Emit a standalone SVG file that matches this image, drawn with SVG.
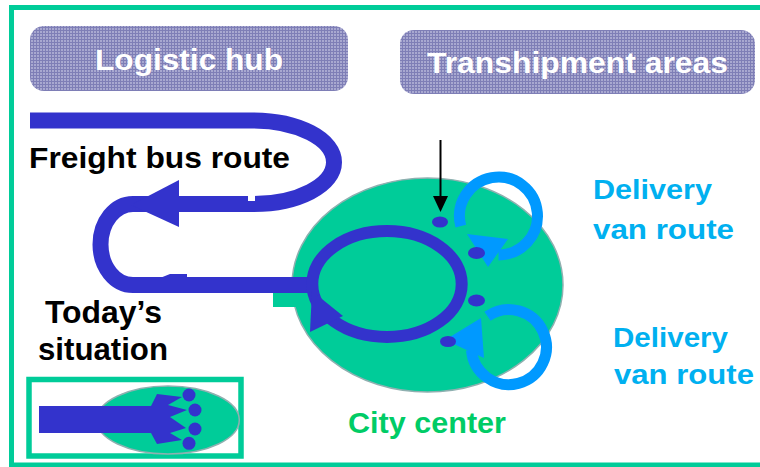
<svg xmlns="http://www.w3.org/2000/svg" width="760" height="467" viewBox="0 0 760 467">
  <defs>
    <pattern id="grid" width="3" height="3" patternUnits="userSpaceOnUse">
      <rect width="3" height="3" fill="#A8A8D0"/>
      <path d="M0,0.5H3M0.5,0V3" stroke="#7E7EB6" stroke-width="1"/>
    </pattern>
  </defs>
  <style>
    .lbl{font-family:"Liberation Sans",Arial,sans-serif;font-weight:bold}
    .box{fill:url(#grid)}
    .boxt{fill:#FFFFFF;font-size:30px}
    .blk{fill:#000000}
    .van{fill:#00B0F0;font-size:28px}
    .city{fill:#00CC99;stroke:#8FB0B0;stroke-width:1.5}
    .bus{fill:none;stroke:#3333CC}
    .busf{fill:#3333CC}
    .loop{fill:none;stroke:#0099FF;stroke-width:11}
    .loopf{fill:#0099FF}
    .dot{fill:#3333CC}
  </style>

  <rect x="11.5" y="7.5" width="770" height="457.5" fill="#FFFFFF" stroke="#00CC99" stroke-width="5"/>

  <g id="logistic-hub">
    <rect class="box" x="30" y="26" width="318" height="65" rx="14"/>
    <text class="lbl boxt" x="95" y="70" textLength="188" lengthAdjust="spacingAndGlyphs">Logistic hub</text>
  </g>

  <g id="transhipment-areas">
    <rect class="box" x="400" y="30" width="355" height="64" rx="14"/>
    <text class="lbl boxt" x="427" y="73" textLength="301" lengthAdjust="spacingAndGlyphs">Transhipment areas</text>
  </g>

  <g id="city-center">
    <ellipse class="city" cx="427.5" cy="285" rx="135.5" ry="107"/>
    <rect x="273" y="292" width="42" height="15" fill="#00CC99"/>
    <text class="lbl" x="348" y="433" font-size="29" fill="#00CC66" textLength="158" lengthAdjust="spacingAndGlyphs">City center</text>
  </g>

  <g id="connectors">
    <!-- freight bus route -->
    <path class="bus" stroke-width="16" d="M30,120.5 H253 A81,41.75 0 0 1 253,204 H133 A32.5,40.5 0 0 0 133,285 H318"/>
    <rect x="248" y="195" width="7" height="6" fill="#FFFFFF"/>
    <polygon class="busf" points="131,205 179,180 179,227"/>
    <polygon class="busf" points="160,278 170,274 187,274 187,278"/>
    <ellipse class="bus" stroke-width="12" cx="387" cy="284" rx="74.7" ry="53"/>
    <polygon class="busf" points="312,291 310,332 343,316"/>
    <!-- black pointer -->
    <line x1="440.5" y1="140" x2="440.5" y2="198" stroke="#000000" stroke-width="2"/>
    <polygon fill="#000000" points="433,196 448,196 440.5,212"/>
    <!-- delivery van loops -->
    <path class="loop" d="M460.8,226.1 A39,39 0 1 1 498.5,255"/>
    <polygon class="loopf" points="467,234 508,239 488,267"/>
    <path class="loop" d="M487.5,316.3 A37.5,37.5 0 1 1 471.5,350"/>
    <polygon class="loopf" points="445,340 481,318 484,358"/>
  </g>

  <g id="transhipment-points">
    <ellipse class="dot" cx="440" cy="222" rx="8" ry="5.5"/>
    <ellipse class="dot" cx="476.5" cy="253" rx="8.5" ry="6"/>
    <ellipse class="dot" cx="476.5" cy="300.5" rx="8.5" ry="6"/>
    <ellipse class="dot" cx="448" cy="341.5" rx="8" ry="5.5"/>
  </g>

  <g id="freight-bus-label">
    <text class="lbl blk" x="29" y="167.5" font-size="29" textLength="261" lengthAdjust="spacingAndGlyphs">Freight bus route</text>
  </g>

  <g id="todays-situation-label">
    <text class="lbl blk" x="45" y="323" font-size="31" textLength="117" lengthAdjust="spacingAndGlyphs">Today’s</text>
    <text class="lbl blk" x="38" y="360" font-size="31" textLength="130" lengthAdjust="spacingAndGlyphs">situation</text>
  </g>

  <g id="delivery-van-route-1">
    <text class="lbl van" x="593" y="199" textLength="119" lengthAdjust="spacingAndGlyphs">Delivery</text>
    <text class="lbl van" x="593" y="239" textLength="141" lengthAdjust="spacingAndGlyphs">van route</text>
  </g>

  <g id="delivery-van-route-2">
    <text class="lbl van" x="613" y="347" textLength="115" lengthAdjust="spacingAndGlyphs">Delivery</text>
    <text class="lbl van" x="614" y="384" textLength="140" lengthAdjust="spacingAndGlyphs">van route</text>
  </g>

  <g id="todays-situation-inset">
    <rect x="29" y="379.5" width="212" height="76.5" fill="none" stroke="#00CC99" stroke-width="5.5"/>
    <ellipse class="city" cx="168" cy="420" rx="71.3" ry="34"/>
    <rect x="39" y="406" width="113" height="27" fill="#3333CC"/>
    <polygon class="busf" points="151,406 157,394 182,397 168,405 187,410 170,417 186,428 170,433 182,440 157,444 151,433"/>
    <circle class="dot" cx="189" cy="395" r="6.5"/>
    <circle class="dot" cx="195" cy="410" r="6.5"/>
    <circle class="dot" cx="195" cy="429" r="6.5"/>
    <circle class="dot" cx="189" cy="443.3" r="6.5"/>
  </g>
</svg>
